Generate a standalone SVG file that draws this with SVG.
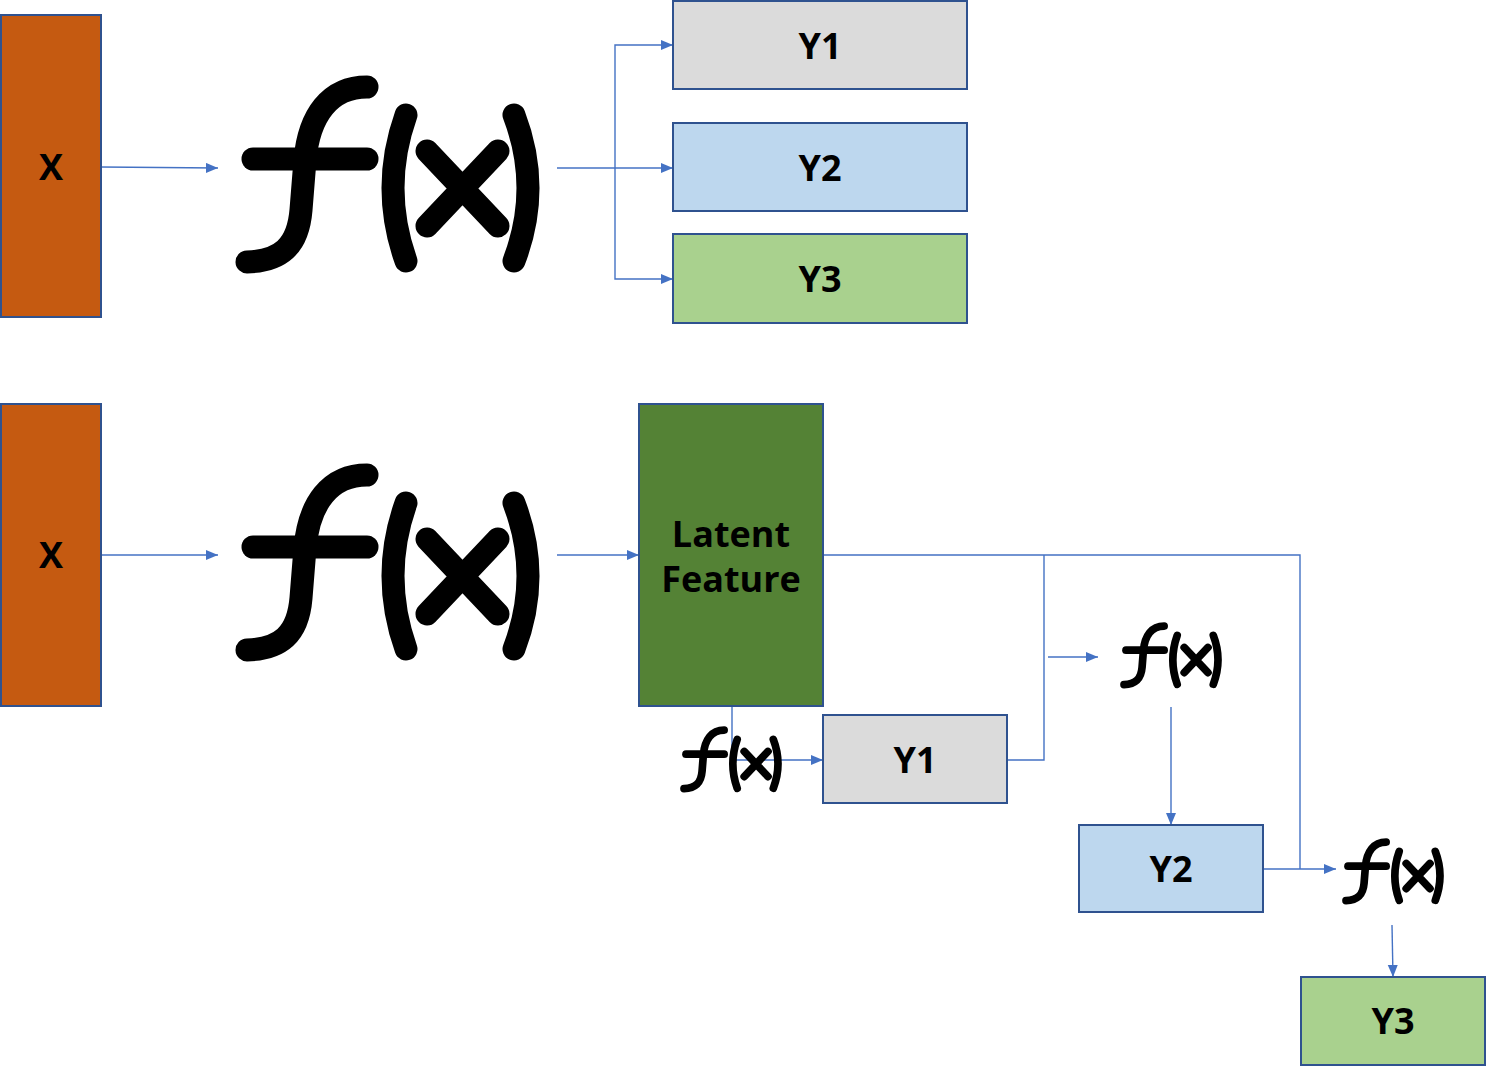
<svg xmlns="http://www.w3.org/2000/svg" xmlns:xlink="http://www.w3.org/1999/xlink" width="1486" height="1067" viewBox="0 0 1486 1067">
<style>
  .box { stroke: #2F528F; stroke-width: 2; }
  .lbl { font-family: "Open Sans", "Noto Sans", "Liberation Sans", sans-serif; font-weight: 700; font-size: 36px; fill: #000; text-anchor: middle; }
  .conn { fill: none; stroke: #4472C4; stroke-width: 1.4; }
  .fx { fill: none; stroke: #000; stroke-width: 23; stroke-linecap: round; stroke-linejoin: round; }
</style>
<defs>
  <marker id="arr" markerUnits="userSpaceOnUse" markerWidth="13" markerHeight="11" refX="12" refY="5" orient="auto">
    <path d="M0,0 L12,5 L0,10 z" fill="#4472C4"/>
  </marker>
  <symbol id="fxicon" viewBox="0 0 305 200" overflow="visible">
    <path class="fx" d="M132,12 C95,12 74,40 70,85 L66,135 C63,172 45,186 12,187"/>
    <path class="fx" d="M18,84 H132"/>
    <path class="fx" d="M171,40 Q145,113 171,186"/>
    <path class="fx" d="M279,40 Q307,113 279,186"/>
    <path class="fx" d="M192,76 L263,151 M263,76 L192,151"/>
  </symbol>
</defs>

<g id="connectors">
  <path class="conn" d="M101,167 L218,168" marker-end="url(#arr)"/>
  <path class="conn" d="M557,168 H673" marker-end="url(#arr)"/>
  <path class="conn" d="M615,168 V45 H673" marker-end="url(#arr)"/>
  <path class="conn" d="M615,168 V279 H673" marker-end="url(#arr)"/>
  <path class="conn" d="M101,555 H218" marker-end="url(#arr)"/>
  <path class="conn" d="M557,555 H639" marker-end="url(#arr)"/>
  <path class="conn" d="M823,555 H1300 V869"/>
  <path class="conn" d="M1044,555 V760 H1007"/>
  <path class="conn" d="M1048,657 H1098" marker-end="url(#arr)"/>
  <path class="conn" d="M1171,707 V825" marker-end="url(#arr)"/>
  <path class="conn" d="M1263,869 H1336" marker-end="url(#arr)"/>
  <path class="conn" d="M1392,925 L1393,977" marker-end="url(#arr)"/>
  <path class="conn" d="M732,706 V760 H823" marker-end="url(#arr)"/>
</g>

<g id="x-top">
  <rect class="box" x="1" y="15" width="100" height="302" fill="#C55A11"/>
  <text class="lbl" x="51" y="180">X</text>
</g>
<g id="fx-top">
  <use xlink:href="#fxicon" x="235" y="75" width="305" height="200"/>
</g>
<g id="y1-top">
  <rect class="box" x="673" y="1" width="294" height="88" fill="#DBDBDB"/>
  <text class="lbl" x="820" y="59">Y1</text>
</g>
<g id="y2-top">
  <rect class="box" x="673" y="123" width="294" height="88" fill="#BDD7EE"/>
  <text class="lbl" x="820" y="181">Y2</text>
</g>
<g id="y3-top">
  <rect class="box" x="673" y="234" width="294" height="89" fill="#A9D18E"/>
  <text class="lbl" x="820" y="292">Y3</text>
</g>

<g id="x-bottom">
  <rect class="box" x="1" y="404" width="100" height="302" fill="#C55A11"/>
  <text class="lbl" x="51" y="568">X</text>
</g>
<g id="fx-bottom">
  <use xlink:href="#fxicon" x="235" y="463" width="305" height="200"/>
</g>
<g id="latent">
  <rect class="box" x="639" y="404" width="184" height="302" fill="#548235"/>
  <text class="lbl" x="731" y="547">Latent<tspan x="731" dy="45">Feature</tspan></text>
</g>
<g id="fx-y1">
  <use xlink:href="#fxicon" x="680" y="726" width="102" height="67"/>
</g>
<g id="y1-bottom">
  <rect class="box" x="823" y="715" width="184" height="88" fill="#DBDBDB"/>
  <text class="lbl" x="915" y="773">Y1</text>
</g>
<g id="fx-y2">
  <use xlink:href="#fxicon" x="1120" y="622" width="102" height="67"/>
</g>
<g id="y2-bottom">
  <rect class="box" x="1079" y="825" width="184" height="87" fill="#BDD7EE"/>
  <text class="lbl" x="1171" y="882">Y2</text>
</g>
<g id="fx-y3">
  <use xlink:href="#fxicon" x="1342" y="838" width="102" height="67"/>
</g>
<g id="y3-bottom">
  <rect class="box" x="1301" y="977" width="184" height="88" fill="#A9D18E"/>
  <text class="lbl" x="1393" y="1034">Y3</text>
</g>
</svg>
